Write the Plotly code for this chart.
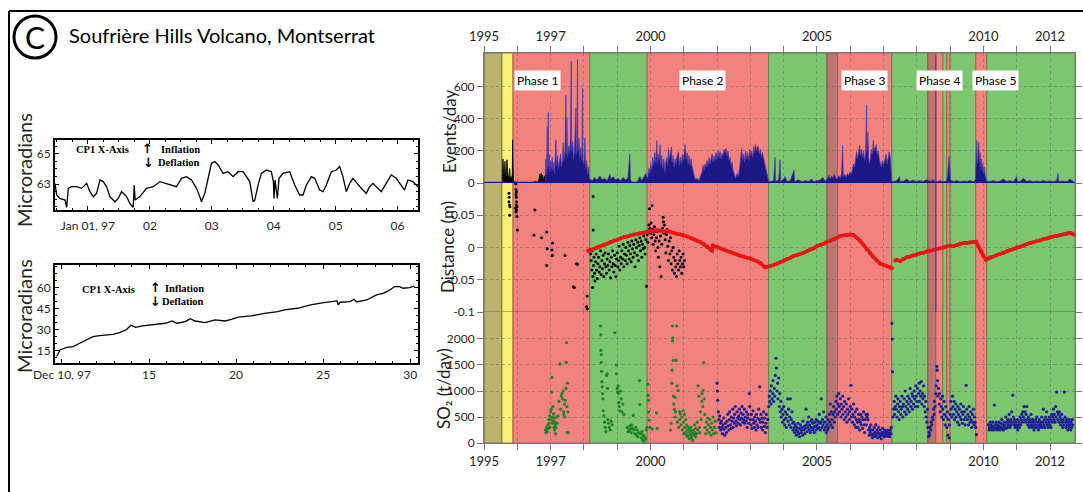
import plotly.graph_objects as go

W, H = 1083, 492
def px(x): return x / W
def py(y): return 1 - y / H

# ---------------- data: tilt records ----------------
TILT1_DAY = [0.468,0.495,0.548,0.629,0.656,0.683,0.737,0.817,0.898,0.979,1.032,1.086,1.140,1.194,1.247,1.301,1.355,1.435,1.489,1.543,1.624,1.677,1.731,1.747,1.763,1.839,1.946,2.054,2.161,2.269,2.376,2.430,2.511,2.591,2.672,2.753,2.806,2.833,2.887,2.941,2.995,3.048,3.102,3.183,3.263,3.344,3.425,3.505,3.613,3.667,3.694,3.747,3.801,3.882,3.962,3.995,4.005,4.021,4.059,4.086,4.150,4.258,4.339,4.419,4.473,4.527,4.608,4.661,4.742,4.796,4.850,4.930,5.011,5.065,5.118,5.172,5.226,5.280,5.360,5.414,5.495,5.548,5.602,5.683,5.737,5.817,5.898,5.979,6.059,6.113,6.167,6.247,6.328]
TILT1_VAL = [63.04,62.27,62.04,61.93,61.44,62.71,62.82,62.82,62.71,63.04,62.49,62.16,62.38,63.27,63.16,62.82,62.16,61.82,62.04,62.49,62.16,61.71,61.44,62.93,61.93,62.16,62.71,62.82,63.16,63.04,62.93,62.82,63.38,63.49,63.27,62.71,62.16,61.82,62.38,63.38,64.38,64.49,64.27,63.71,63.82,63.49,63.82,63.82,63.16,61.82,61.93,62.93,63.71,63.93,63.82,63.16,62.04,63.27,62.04,63.38,63.71,63.82,62.93,62.27,62.27,62.93,63.49,63.38,62.60,62.49,62.93,63.82,63.93,64.16,63.49,62.49,63.04,63.38,62.93,62.71,62.38,62.82,63.04,62.71,62.49,63.04,63.60,63.38,62.93,62.60,63.27,63.16,62.82]

TILT2_DAY = [9.70,9.89,10.27,10.64,11.02,11.40,11.78,12.16,12.54,12.92,13.30,13.68,13.96,14.24,14.62,15.19,15.57,15.95,16.32,16.61,17.08,17.37,17.65,18.22,18.79,19.36,19.73,20.11,20.87,21.63,22.39,22.77,23.52,24.28,25.04,25.42,25.80,25.87,25.98,26.55,26.78,26.93,27.50,28.07,28.45,28.83,29.11,29.40,29.59,29.96,30.25]
TILT2_VAL = [11.0,15.7,17.6,18.1,20.5,22.9,25.2,26.0,26.4,26.9,28.1,30.0,33.3,31.9,32.9,33.6,34.3,34.8,36.4,34.8,36.0,38.1,36.4,35.3,37.2,36.4,37.6,39.1,40.0,41.9,43.1,44.3,45.5,47.9,49.5,50.2,50.7,47.9,49.8,50.2,51.9,50.0,51.4,55.0,56.2,58.6,61.0,61.0,59.8,60.3,61.4]

TILT1_TICKS = [1, 2, 3, 4, 5, 6]
TILT1_LABELS = ["Jan 01, 97", "02", "03", "04", "05", "06"]
TILT2_TICKS = [10, 15, 20, 25, 30]
TILT2_LABELS = ["Dec 10, 97", "15", "20", "25", "30"]

# ---------------- data: phases ----------------
BAND_START = [1995.0, 1995.54, 1995.87, 1998.18, 1999.90, 2003.55, 2005.30, 2005.62, 2007.25, 2008.33, 2008.57, 2008.78, 2008.90, 2009.00, 2009.77, 2010.10]
BAND_END   = [1995.54, 1995.87, 1998.18, 1999.90, 2003.55, 2005.30, 2005.62, 2007.25, 2008.33, 2008.57, 2008.78, 2008.90, 2009.00, 2009.77, 2010.10, 2012.75]
BAND_KIND  = ["olive", "yellow", "red", "green", "red", "green", "brown", "red", "green", "brown", "red", "green", "red", "green", "red", "green"]
PHASE_NAMES = ["Phase 1", "Phase 2", "Phase 3", "Phase 4", "Phase 5"]
PHASE_LABEL_X = [1996.6, 2001.55, 2006.43, 2008.68, 2010.36]
MARKER_LINE_YEAR = 2008.57

YEAR_TICKS = list(range(1995, 2013))
YEAR_LABELED = [1995, 1997, 2000, 2005, 2010, 2012]

# ---------------- data: events/day ----------------
EV_BLACK = [(1995.55,20),(1995.57,150),(1995.59,60),(1995.61,40),(1995.63,135),(1995.65,30),(1995.67,50),(1995.69,145),(1995.71,70),(1995.73,30),(1995.75,40),(1995.77,90),(1995.79,25),(1995.81,40),(1995.83,20),(1995.85,60),(1995.86,270),(1995.87,40),(1995.88,15),(1995.90,8),(1995.95,5),(1996.0,3),(1996.1,2),(1996.2,1),(1996.3,3),(1996.4,2),(1996.5,5),(1996.55,10),(1996.6,3),(1996.65,20),(1996.68,55),(1996.7,15),(1996.72,60),(1996.74,25),(1996.76,50),(1996.78,10),(1996.8,30),(1996.82,45),(1996.84,20)]

EV_BLUE = [(1996.84,40),(1996.86,150),(1996.88,60),(1996.90,350),(1996.91,90),(1996.93,440),(1996.94,110),(1996.96,180),(1996.98,70),(1997.00,140),(1997.02,90),(1997.05,160),(1997.07,80),(1997.10,130),(1997.12,60),(1997.14,150),(1997.16,270),(1997.18,110),(1997.21,170),(1997.24,90),(1997.27,140),(1997.30,180),(1997.33,100),(1997.36,150),(1997.38,250),(1997.40,140),(1997.43,200),(1997.46,550),(1997.47,180),(1997.49,410),(1997.51,160),(1997.54,230),(1997.57,190),(1997.60,300),(1997.62,760),(1997.63,200),(1997.66,260),(1997.69,150),(1997.72,220),(1997.74,320),(1997.76,470),(1997.77,180),(1997.79,250),(1997.81,770),(1997.82,200),(1997.85,280),(1997.88,160),(1997.91,220),(1997.94,140),(1997.96,590),(1997.97,150),(1998.00,120),(1998.03,280),(1998.05,90),(1998.08,140),(1998.11,60),(1998.14,100),(1998.16,30),
(1998.18,25),(1998.25,15),(1998.32,35),(1998.40,20),(1998.48,45),(1998.55,20),(1998.62,30),(1998.70,15),(1998.78,55),(1998.82,25),(1998.88,40),(1998.95,20),(1999.02,30),(1999.10,15),(1999.18,35),(1999.25,20),(1999.32,30),(1999.38,180),(1999.40,20),(1999.45,5),(1999.50,0),(1999.58,0),(1999.62,20),(1999.68,40),(1999.74,15),(1999.80,35),(1999.86,60),(1999.90,30),
(1999.92,40),(1999.95,90),(1999.98,60),(2000.01,120),(2000.04,80),(2000.07,160),(2000.10,110),(2000.13,190),(2000.16,130),(2000.19,265),(2000.21,120),(2000.24,180),(2000.27,140),(2000.29,240),(2000.31,110),(2000.34,170),(2000.37,90),(2000.40,150),(2000.43,70),(2000.46,130),(2000.49,160),(2000.52,110),(2000.54,215),(2000.57,150),(2000.60,180),(2000.63,225),(2000.65,130),(2000.68,170),(2000.71,100),(2000.74,150),(2000.77,120),(2000.80,170),(2000.84,195),(2000.87,110),(2000.90,160),(2000.93,120),(2000.96,180),(2000.99,140),(2001.02,200),(2001.04,240),(2001.07,150),(2001.10,190),(2001.13,120),(2001.16,170),(2001.19,110),(2001.22,150),(2001.25,100),(2001.28,70),(2001.32,40),(2001.36,20),(2001.40,30),(2001.45,15),(2001.50,40),(2001.55,70),(2001.58,110),(2001.61,80),(2001.64,120),(2001.67,100),(2001.70,140),(2001.73,110),(2001.76,160),(2001.79,120),(2001.82,150),(2001.85,180),(2001.88,130),(2001.91,170),(2001.94,140),(2001.97,190),(2002.00,150),(2002.03,200),(2002.06,160),(2002.09,195),(2002.12,150),(2002.15,185),(2002.18,170),(2002.21,210),(2002.24,190),(2002.27,215),(2002.30,170),(2002.33,200),(2002.36,140),(2002.39,160),(2002.42,110),(2002.45,130),(2002.48,80),(2002.52,50),(2002.56,30),(2002.60,60),(2002.64,40),(2002.68,100),(2002.71,150),(2002.74,215),(2002.77,140),(2002.80,180),(2002.83,130),(2002.86,200),(2002.89,150),(2002.92,190),(2002.95,140),(2002.98,210),(2003.01,170),(2003.04,200),(2003.07,160),(2003.10,230),(2003.13,190),(2003.15,245),(2003.18,200),(2003.21,230),(2003.24,225),(2003.27,180),(2003.30,210),(2003.33,160),(2003.36,190),(2003.40,150),(2003.44,120),(2003.48,90),(2003.52,40),(2003.55,10),
(2003.60,10),(2003.70,15),(2003.74,160),(2003.76,10),(2003.85,20),(2003.89,145),(2003.91,10),(2004.00,25),(2004.04,40),(2004.10,10),(2004.20,15),(2004.31,80),(2004.33,10),(2004.45,20),(2004.55,8),(2004.65,15),(2004.75,10),(2004.84,25),(2004.90,8),(2005.00,15),(2005.10,20),(2005.18,35),(2005.25,10),
(2005.32,30),(2005.36,50),(2005.40,25),(2005.44,45),(2005.48,30),(2005.52,55),(2005.56,35),(2005.60,25),
(2005.62,30),(2005.66,45),(2005.70,30),(2005.74,60),(2005.77,235),(2005.79,40),(2005.83,55),(2005.87,35),(2005.91,60),(2005.95,45),(2005.99,70),(2006.03,55),(2006.07,90),(2006.10,120),(2006.13,100),(2006.16,160),(2006.19,195),(2006.22,150),(2006.25,200),(2006.28,235),(2006.31,170),(2006.34,210),(2006.37,160),(2006.40,200),(2006.43,140),(2006.46,180),(2006.49,485),(2006.50,200),(2006.53,320),(2006.55,150),(2006.58,120),(2006.61,170),(2006.64,210),(2006.67,180),(2006.69,265),(2006.72,200),(2006.75,230),(2006.78,240),(2006.81,180),(2006.84,200),(2006.87,150),(2006.90,130),(2006.93,100),(2006.96,140),(2006.99,110),(2007.02,130),(2007.05,160),(2007.08,180),(2007.11,120),(2007.14,150),(2007.17,195),(2007.20,160),(2007.23,80),(2007.25,10),
(2007.30,8),(2007.40,15),(2007.48,40),(2007.50,8),(2007.60,12),(2007.70,25),(2007.78,10),(2007.88,18),(2007.98,8),(2008.08,15),(2008.18,10),(2008.28,20),(2008.36,15),(2008.42,10),(2008.48,20),(2008.54,12),(2008.62,8),(2008.70,15),(2008.76,10),(2008.82,8),(2008.88,10),(2008.92,40),(2008.95,120),(2008.97,165),(2008.99,100),(2009.01,20),(2009.10,10),(2009.20,15),(2009.30,8),(2009.40,12),(2009.50,10),(2009.60,15),(2009.70,8),
(2009.76,20),(2009.78,150),(2009.80,265),(2009.82,120),(2009.84,200),(2009.86,255),(2009.88,130),(2009.90,190),(2009.92,100),(2009.94,150),(2009.96,80),(2009.98,120),(2010.00,60),(2010.02,100),(2010.05,50),(2010.08,30),(2010.10,10),
(2010.20,10),(2010.30,15),(2010.40,8),(2010.50,12),(2010.60,25),(2010.70,10),(2010.80,15),(2010.90,8),(2011.00,40),(2011.02,10),(2011.10,10),(2011.20,30),(2011.30,10),(2011.40,15),(2011.50,8),(2011.60,12),(2011.70,10),(2011.80,15),(2011.90,10),(2012.00,12),(2012.10,8),(2012.20,15),(2012.24,60),(2012.26,10),(2012.40,12),(2012.50,8),(2012.60,25),(2012.70,10)]

# ---------------- data: distance (m) ----------------
DIST_RED_A = [(1998.12,-0.005),(1998.2,-0.004),(1998.3,-0.002),(1998.4,0.0),(1998.5,0.002),(1998.6,0.004),(1998.7,0.006),(1998.8,0.009),(1998.9,0.011),(1999.0,0.012),(1999.1,0.014),(1999.2,0.016),(1999.3,0.017),(1999.4,0.019),(1999.5,0.020),(1999.6,0.021),(1999.7,0.022),(1999.8,0.023),(1999.9,0.025),(2000.0,0.026),(2000.1,0.025),(2000.2,0.027),(2000.3,0.026),(2000.4,0.025),(2000.5,0.026),(2000.6,0.024),(2000.7,0.023),(2000.8,0.021),(2000.9,0.020),(2001.0,0.019),(2001.1,0.017),(2001.2,0.015),(2001.3,0.013),(2001.4,0.011),(2001.5,0.008),(2001.6,0.005),(2001.7,0.001),(2001.8,-0.003),(2001.85,-0.005),(2001.88,0.003),(2002.0,0.001),(2002.1,-0.001),(2002.2,-0.003),(2002.3,-0.005),(2002.4,-0.007),(2002.5,-0.009),(2002.6,-0.011),(2002.7,-0.013),(2002.8,-0.014),(2002.9,-0.016),(2003.0,-0.017),(2003.1,-0.019),(2003.2,-0.021),(2003.3,-0.024),(2003.4,-0.029),(2003.45,-0.031),(2003.5,-0.030),(2003.6,-0.029),(2003.7,-0.027),(2003.8,-0.025),(2003.9,-0.023),(2004.0,-0.020),(2004.1,-0.018),(2004.2,-0.016),(2004.3,-0.013),(2004.4,-0.012),(2004.5,-0.010),(2004.6,-0.008),(2004.7,-0.006),(2004.8,-0.003),(2004.9,-0.001),(2005.0,0.002),(2005.1,0.004),(2005.2,0.006),(2005.3,0.009),(2005.4,0.011),(2005.5,0.013),(2005.6,0.015),(2005.7,0.018),(2005.8,0.019),(2005.9,0.019),(2006.0,0.020),(2006.1,0.019),(2006.2,0.015),(2006.3,0.010),(2006.4,0.004),(2006.5,-0.003),(2006.6,-0.009),(2006.7,-0.015),(2006.8,-0.020),(2006.9,-0.025),(2007.0,-0.027),(2007.1,-0.029),(2007.2,-0.031),(2007.25,-0.032)]
DIST_RED_B = [(2007.35,-0.020),(2007.40,-0.019),(2007.5,-0.021),(2007.6,-0.018),(2007.7,-0.015),(2007.8,-0.014),(2007.9,-0.012),(2008.0,-0.011),(2008.1,-0.009),(2008.2,-0.008),(2008.3,-0.006),(2008.4,-0.005),(2008.5,-0.004),(2008.6,-0.002),(2008.7,-0.001),(2008.8,0.000),(2008.9,0.002),(2009.0,0.003),(2009.1,0.002),(2009.2,0.004),(2009.3,0.006),(2009.4,0.007),(2009.5,0.007),(2009.6,0.008),(2009.7,0.009),(2009.78,0.009),(2009.85,0.002),(2009.92,-0.006),(2010.0,-0.013),(2010.07,-0.019),(2010.15,-0.017),(2010.2,-0.015),(2010.3,-0.014),(2010.4,-0.012),(2010.5,-0.010),(2010.6,-0.008),(2010.7,-0.006),(2010.8,-0.004),(2010.9,-0.002),(2011.0,0.000),(2011.1,0.001),(2011.2,0.003),(2011.3,0.005),(2011.4,0.007),(2011.5,0.008),(2011.6,0.010),(2011.7,0.011),(2011.8,0.013),(2011.9,0.014),(2012.0,0.016),(2012.1,0.017),(2012.2,0.018),(2012.3,0.019),(2012.4,0.020),(2012.5,0.021),(2012.6,0.023),(2012.65,0.022),(2012.7,0.020)]

DIST_BLACK = [(1995.75,0.084),(1995.76,0.078),(1995.75,0.071),(1995.77,0.066),(1995.78,0.063),(1995.77,0.050),(1995.95,0.099),(1995.96,0.090),(1995.96,0.082),(1995.97,0.078),(1995.98,0.071),(1995.97,0.066),(1995.99,0.063),(1995.98,0.058),(1995.96,0.055),(1995.99,0.048),(1996.00,0.027),(1995.94,0.061),(1995.97,0.086),
(1996.53,0.058),(1996.50,0.019),(1996.73,0.015),(1996.88,0.024),(1996.90,-0.002),(1997.04,-0.004),(1997.06,0.007),(1997.05,-0.0125),(1996.88,-0.028),(1997.43,-0.0125),(1997.78,-0.025),(1997.81,-0.026),(1997.68,-0.061),(1997.71,-0.062),(1998.10,-0.075),(1998.08,-0.092),(1998.10,-0.095),(1998.28,0.079),(1998.28,0.027),(1998.26,-0.062),
(1998.20,-0.010),(1998.22,-0.020),(1998.24,-0.035),(1998.25,-0.005),(1998.27,-0.045),(1998.29,-0.028),(1998.30,-0.015),(1998.32,-0.040),(1998.33,-0.052),(1998.35,-0.022),(1998.37,-0.010),(1998.38,-0.035),(1998.40,-0.048),(1998.42,-0.025),(1998.44,-0.015),(1998.46,-0.038),(1998.48,-0.030),(1998.50,-0.005),(1998.52,-0.042),(1998.54,-0.020),(1998.56,-0.033),(1998.58,-0.012),(1998.60,-0.045),(1998.62,-0.025),(1998.64,-0.008),(1998.66,-0.030),(1998.68,-0.040),(1998.70,-0.018),(1998.72,-0.028),(1998.74,-0.010),(1998.76,-0.035),(1998.78,-0.022),(1998.80,-0.047),(1998.82,-0.015),(1998.84,-0.030),(1998.86,-0.005),(1998.88,-0.025),(1998.90,-0.038),(1998.92,-0.012),(1998.94,-0.028),(1998.96,-0.045),(1998.98,-0.018),(1999.00,-0.008),(1999.02,-0.030),(1999.04,-0.020),(1999.06,0.002),(1999.08,-0.035),(1999.10,-0.015),(1999.12,-0.025),(1999.14,-0.005),(1999.16,-0.018),(1999.18,0.005),(1999.20,-0.030),(1999.22,-0.010),(1999.24,-0.020),(1999.26,0.000),(1999.28,-0.012),(1999.30,-0.025),(1999.32,0.008),(1999.34,-0.005),(1999.36,-0.018),(1999.38,0.003),(1999.40,-0.010),(1999.42,-0.022),(1999.44,0.010),(1999.46,-0.002),(1999.48,-0.015),(1999.50,0.005),(1999.52,-0.008),(1999.54,-0.030),(1999.56,0.012),(1999.58,0.000),(1999.60,-0.012),(1999.62,0.008),(1999.64,-0.020),(1999.66,0.003),(1999.68,0.015),(1999.70,-0.005),(1999.72,0.010),(1999.74,-0.015),(1999.76,0.005),(1999.78,-0.002),(1999.80,0.018),(1999.82,0.000),(1999.84,-0.010),(1999.86,0.012),(1999.88,-0.060),(1999.90,0.020),(1999.92,0.008),
(1999.97,0.060),(2000.05,0.065),(1999.95,0.035),(1999.98,0.030),(2000.00,0.022),(2000.02,0.038),(2000.04,0.015),(2000.06,0.028),(2000.08,0.005),(2000.10,0.020),(2000.12,0.032),(2000.14,0.010),(2000.16,-0.005),(2000.18,0.015),(2000.20,0.025),(2000.22,0.000),(2000.24,-0.015),(2000.26,0.010),(2000.28,-0.030),(2000.30,0.018),(2000.32,-0.045),(2000.34,0.005),(2000.36,0.030),(2000.38,0.047),(2000.39,0.040),(2000.40,0.022),(2000.42,0.035),(2000.44,0.012),(2000.46,-0.008),(2000.48,0.020),(2000.50,0.028),(2000.52,0.002),(2000.54,-0.020),(2000.56,0.010),(2000.58,-0.010),(2000.60,0.015),(2000.62,-0.025),(2000.64,-0.005),(2000.66,-0.035),(2000.68,0.000),(2000.70,-0.015),(2000.72,-0.040),(2000.74,-0.020),(2000.76,-0.030),(2000.78,-0.045),(2000.80,-0.010),(2000.82,-0.025),(2000.84,-0.035),(2000.86,-0.005),(2000.88,-0.020),(2000.90,-0.030),(2000.92,-0.015),(2000.94,-0.040),(2000.96,-0.025),(2000.98,-0.010),(2001.00,-0.030),(2001.02,-0.020)]

# ---------------- data: SO2 (t/day) ----------------
SO2_GREEN = [(1996.85,250),(1996.86,200),(1996.88,300),(1996.90,220),(1996.92,350),(1996.93,280),(1996.95,450),(1996.96,380),(1996.97,520),(1996.98,300),(1997.00,600),(1997.01,450),(1997.02,650),(1997.03,980),(1997.04,1260),(1997.05,500),(1997.06,380),(1997.07,700),(1997.08,420),(1997.09,560),(1997.10,300),(1997.11,480),(1997.12,250),(1997.13,400),(1997.14,350),(1997.15,180),(1997.16,300),(1997.18,500),(1997.20,380),(1997.22,520),(1997.25,800),(1997.28,1520),(1997.30,650),(1997.32,900),(1997.34,950),(1997.36,850),(1997.38,1000),(1997.39,600),(1997.40,550),(1997.42,750),(1997.43,500),(1997.44,820),(1997.46,1050),(1997.47,1550),(1997.48,1930),(1997.49,700),(1997.50,200),(1997.51,1150),(1997.52,600),(1997.53,200),
(1998.50,2250),(1998.51,2080),(1998.51,1780),(1998.52,1700),(1998.52,1550),(1998.53,1380),(1998.54,1180),(1998.55,1080),(1998.56,950),(1998.57,850),(1998.58,620),(1998.60,520),(1998.62,400),(1998.64,300),(1998.66,220),(1998.68,1300),(1998.70,1330),(1998.71,1050),(1998.72,450),(1998.74,380),(1998.76,300),(1998.79,250),(1998.82,420),(1998.85,350),(1998.93,2120),(1998.97,1500),(1998.98,1330),(1999.00,1050),(1999.01,980),(1999.03,1100),(1999.04,950),(1999.05,780),(1999.06,700),(1999.08,620),(1999.10,1000),(1999.12,850),(1999.14,600),(1999.17,750),(1999.20,550),(1999.30,300),(1999.33,220),(1999.36,250),(1999.38,330),(1999.40,270),(1999.42,200),(1999.44,350),(1999.46,280),(1999.48,530),(1999.50,250),(1999.53,180),(1999.56,300),(1999.58,150),(1999.60,250),(1999.62,120),(1999.64,200),(1999.67,1200),(1999.68,740),(1999.70,180),(1999.72,100),(1999.74,220),(1999.76,60),(1999.78,150),(1999.80,30),(1999.82,120),(1999.85,80),(1999.87,250),(1999.89,300),
(1999.92,1130),(1999.93,920),(1999.94,820),(1999.95,600),(1999.96,440),(1999.98,300),(2000.05,270),(2000.18,580),(2000.20,280),(2000.60,250),(2000.62,380),(2000.64,1150),(2000.65,1400),(2000.66,2250),(2000.66,1960),(2000.67,2020),(2000.68,1590),(2000.69,900),(2000.70,750),(2000.72,650),(2000.73,500),(2000.74,880),(2000.75,600),(2000.77,1590),(2000.79,2250),(2000.80,1100),(2000.81,400),(2000.83,1010),(2000.85,300),(2000.87,600),(2000.88,450),(2000.90,560),(2000.92,350),(2000.94,500),(2000.96,250),(2000.98,620),(2000.99,400),(2001.00,180),(2001.02,550),(2001.03,300),(2001.05,200),(2001.06,450),(2001.08,150),(2001.09,350),(2001.11,250),(2001.12,120),(2001.14,300),(2001.15,200),(2001.17,80),(2001.18,250),(2001.20,150),(2001.21,300),(2001.23,100),(2001.24,220),(2001.26,180),(2001.27,50),(2001.29,250),(2001.30,150),(2001.32,350),(2001.33,200),(2001.35,120),(2001.36,280),(2001.38,180),(2001.40,400),(2001.42,250),(2001.43,1100),(2001.45,900),(2001.47,300),(2001.48,200),(2001.50,600),(2001.52,450),(2001.54,800),(2001.55,950),(2001.57,700),(2001.58,1010),(2001.60,1545),(2001.61,850),(2001.63,550),(2001.64,300),(2001.66,180),(2001.68,400),(2001.70,250),(2001.72,480),(2001.74,350),(2001.76,200),(2001.78,450),(2001.80,300),(2001.82,150),(2001.84,380),(2001.86,250),(2001.88,500),(2001.90,180),(2001.92,300),(2001.94,420),(2001.96,200)]

SO2_BLUE = [(2002.00,1150),(2002.01,1000),(2002.02,820),(2002.04,600),(2002.05,450),(2002.07,300),(2002.08,520),(2002.10,380),(2002.11,250),(2002.13,420),(2002.15,300),(2002.16,180),(2002.18,350),(2002.20,480),(2002.21,260),(2002.23,150),(2002.25,380),(2002.26,300),(2002.28,200),(2002.30,420),(2002.32,550),(2002.33,330),(2002.35,250),(2002.37,450),(2002.38,600),(2002.40,350),(2002.42,280),(2002.43,500),(2002.45,420),(2002.47,650),(2002.48,300),(2002.50,480),(2002.52,380),(2002.53,550),(2002.55,700),(2002.57,420),(2002.58,330),(2002.60,600),(2002.62,480),(2002.63,380),(2002.65,520),(2002.67,650),(2002.68,450),(2002.70,350),(2002.72,580),(2002.73,480),(2002.75,700),(2002.77,400),(2002.78,550),(2002.80,450),(2002.82,650),(2002.83,380),(2002.85,500),(2002.87,420),(2002.88,600),(2002.90,300),(2002.92,480),(2002.93,550),(2002.95,380),(2002.97,950),(2002.98,700),
(2003.00,450),(2003.02,350),(2003.03,550),(2003.05,280),(2003.07,450),(2003.08,620),(2003.10,380),(2003.12,300),(2003.13,500),(2003.15,420),(2003.17,250),(2003.18,550),(2003.20,350),(2003.22,480),(2003.23,300),(2003.25,650),(2003.27,450),(2003.28,1080),(2003.30,400),(2003.32,550),(2003.33,300),(2003.35,480),(2003.37,250),(2003.38,400),(2003.40,600),(2003.42,320),(2003.43,480),(2003.45,200),(2003.47,380),(2003.48,550),(2003.50,300),(2003.52,450),(2003.55,700),(2003.57,900),(2003.58,800),(2003.60,1000),(2003.62,750),(2003.63,1100),(2003.65,850),(2003.67,950),(2003.68,1200),(2003.70,800),(2003.72,1050),(2003.73,900),(2003.75,1300),(2003.77,1630),(2003.78,1440),(2003.80,1000),(2003.82,1150),(2003.83,850),(2003.85,1250),(2003.87,700),(2003.88,950),(2003.90,600),(2003.92,800),(2003.93,500),(2003.95,650),(2003.97,400),(2003.98,550),
(2004.00,700),(2004.02,450),(2004.03,350),(2004.05,600),(2004.07,480),(2004.08,300),(2004.10,550),(2004.12,850),(2004.13,420),(2004.15,650),(2004.17,350),(2004.18,500),(2004.20,850),(2004.22,300),(2004.23,450),(2004.25,600),(2004.27,380),(2004.28,250),(2004.30,400),(2004.32,300),(2004.33,200),(2004.35,350),(2004.37,250),(2004.38,150),(2004.40,300),(2004.42,220),(2004.43,380),(2004.45,180),(2004.47,280),(2004.48,120),(2004.50,350),(2004.52,250),(2004.53,200),(2004.55,300),(2004.57,150),(2004.58,420),(2004.60,250),(2004.62,320),(2004.63,180),(2004.65,280),(2004.67,650),(2004.68,350),(2004.70,220),(2004.72,400),(2004.73,300),(2004.75,500),(2004.77,250),(2004.78,350),(2004.80,200),(2004.82,420),(2004.83,300),(2004.85,450),(2004.87,250),(2004.88,380),(2004.90,300),(2004.92,200),(2004.93,400),(2004.95,320),(2004.97,250),(2004.98,450),
(2005.00,350),(2005.02,280),(2005.03,420),(2005.05,300),(2005.07,550),(2005.08,380),(2005.10,250),(2005.12,400),(2005.13,850),(2005.15,300),(2005.17,450),(2005.18,350),(2005.20,600),(2005.22,250),(2005.23,400),(2005.25,300),(2005.27,500),(2005.28,200),(2005.30,350),(2005.32,250),(2005.33,450),(2005.35,300),(2005.37,550),(2005.38,400),(2005.40,750),(2005.42,350),(2005.43,600),(2005.45,450),(2005.47,300),(2005.48,550),(2005.50,700),(2005.52,400),(2005.53,600),(2005.55,500),(2005.57,800),(2005.58,650),(2005.60,900),(2005.62,550),(2005.63,750),(2005.65,950),(2005.67,700),(2005.68,600),(2005.70,850),(2005.72,500),(2005.73,750),(2005.75,650),(2005.77,900),(2005.78,550),(2005.80,700),(2005.82,450),(2005.83,800),(2005.85,600),(2005.87,500),(2005.88,750),(2005.90,400),(2005.92,650),(2005.93,550),(2005.95,850),(2005.97,450),(2005.98,600),
(2006.00,700),(2006.02,1110),(2006.03,500),(2006.05,650),(2006.07,400),(2006.08,550),(2006.10,750),(2006.12,350),(2006.13,500),(2006.15,600),(2006.17,300),(2006.18,450),(2006.20,650),(2006.22,400),(2006.23,300),(2006.25,550),(2006.27,450),(2006.28,250),(2006.30,400),(2006.32,550),(2006.33,350),(2006.35,500),(2006.37,280),(2006.38,450),(2006.40,600),(2006.42,350),(2006.43,200),(2006.45,450),(2006.47,550),(2006.48,350),(2006.50,500),(2006.52,550),(2006.53,450),(2006.55,250),(2006.57,150),(2006.58,300),(2006.60,200),(2006.62,350),(2006.63,250),(2006.65,150),(2006.67,100),(2006.68,250),(2006.70,180),(2006.72,300),(2006.73,120),(2006.75,200),(2006.77,350),(2006.78,150),(2006.80,250),(2006.82,100),(2006.83,200),(2006.85,300),(2006.87,180),(2006.88,120),(2006.90,250),(2006.92,150),(2006.93,80),(2006.95,200),(2006.97,280),(2006.98,150),
(2007.00,200),(2007.02,120),(2007.03,250),(2007.05,180),(2007.07,150),(2007.08,220),(2007.10,130),(2007.12,250),(2007.13,180),(2007.15,150),(2007.17,200),(2007.18,120),(2007.20,250),(2007.22,180),(2007.23,300),(2007.25,2300),(2007.26,2000),(2007.27,1370),(2007.28,500),(2007.30,650),(2007.32,800),(2007.33,550),(2007.35,700),(2007.37,900),(2007.38,650),(2007.40,500),(2007.42,750),(2007.43,850),(2007.45,600),(2007.47,450),(2007.48,700),(2007.50,800),(2007.52,550),(2007.53,650),(2007.55,900),(2007.57,700),(2007.58,500),(2007.60,750),(2007.62,850),(2007.63,600),(2007.65,1000),(2007.67,700),(2007.68,550),(2007.70,800),(2007.72,650),(2007.73,900),(2007.75,750),(2007.77,600),(2007.78,850),(2007.80,1050),(2007.82,700),(2007.83,800),(2007.85,950),(2007.87,650),(2007.88,900),(2007.90,750),(2007.92,1000),(2007.93,850),(2007.95,700),(2007.97,1100),(2007.98,900),
(2008.00,800),(2008.02,1050),(2008.03,700),(2008.05,950),(2008.07,1150),(2008.08,800),(2008.10,1000),(2008.12,900),(2008.13,1180),(2008.15,750),(2008.17,950),(2008.18,850),(2008.20,1100),(2008.22,700),(2008.23,900),(2008.25,600),(2008.27,800),(2008.28,500),(2008.30,400),(2008.32,650),(2008.33,300),(2008.35,120),(2008.37,200),(2008.38,150),(2008.40,300),(2008.42,250),(2008.43,400),(2008.45,350),(2008.47,500),(2008.48,450),(2008.50,650),(2008.52,550),(2008.53,800),(2008.55,700),(2008.57,950),(2008.58,1100),(2008.60,1470),(2008.61,1400),(2008.62,1200),(2008.63,900),(2008.65,1050),(2008.67,750),(2008.68,950),(2008.70,600),(2008.72,850),(2008.73,700),(2008.75,500),(2008.77,900),(2008.78,650),(2008.80,450),(2008.82,800),(2008.83,550),(2008.85,350),(2008.87,700),(2008.88,500),(2008.90,300),(2008.92,600),(2008.93,150),(2008.95,450),(2008.97,100),(2008.98,350),
(2009.00,550),(2009.02,800),(2009.03,650),(2009.05,500),(2009.07,900),(2009.08,700),(2009.10,550),(2009.12,800),(2009.13,450),(2009.15,650),(2009.17,750),(2009.18,500),(2009.20,600),(2009.22,400),(2009.23,700),(2009.25,550),(2009.27,350),(2009.28,650),(2009.30,500),(2009.32,750),(2009.33,450),(2009.35,600),(2009.37,380),(2009.38,550),(2009.40,700),(2009.42,450),(2009.43,600),(2009.45,350),(2009.47,500),(2009.48,1110),(2009.50,650),(2009.52,450),(2009.53,550),(2009.55,350),(2009.57,700),(2009.58,500),(2009.60,400),(2009.62,600),(2009.63,450),(2009.65,300),(2009.67,550),(2009.68,400),(2009.70,650),(2009.72,350),(2009.73,500),(2009.75,400),(2009.77,300),(2009.79,160),
(2010.15,350),(2010.17,250),(2010.18,300),(2010.20,400),(2010.22,280),(2010.23,350),(2010.25,250),(2010.27,320),(2010.28,400),(2010.30,300),(2010.32,250),(2010.33,730),(2010.35,350),(2010.37,280),(2010.38,400),(2010.40,300),(2010.42,250),(2010.43,350),(2010.45,280),(2010.47,400),(2010.48,320),(2010.50,250),(2010.52,380),(2010.53,300),(2010.55,450),(2010.57,280),(2010.58,350),(2010.60,250),(2010.62,400),(2010.63,300),(2010.65,350),(2010.67,500),(2010.68,280),(2010.70,400),(2010.72,300),(2010.73,450),(2010.75,350),(2010.77,550),(2010.78,400),(2010.80,300),(2010.82,450),(2010.83,350),(2010.85,600),(2010.87,400),(2010.88,920),(2010.90,500),(2010.92,350),(2010.93,450),(2010.95,300),(2010.97,400),(2010.98,350),
(2011.00,300),(2011.02,450),(2011.03,250),(2011.05,350),(2011.07,400),(2011.08,300),(2011.10,500),(2011.12,350),(2011.13,450),(2011.15,550),(2011.17,400),(2011.18,600),(2011.20,500),(2011.22,700),(2011.23,450),(2011.25,600),(2011.27,400),(2011.28,550),(2011.30,700),(2011.32,450),(2011.33,350),(2011.35,500),(2011.37,400),(2011.38,300),(2011.40,450),(2011.42,350),(2011.43,550),(2011.45,400),(2011.47,300),(2011.48,450),(2011.50,350),(2011.52,250),(2011.53,400),(2011.55,300),(2011.57,450),(2011.58,350),(2011.60,500),(2011.62,300),(2011.63,400),(2011.65,250),(2011.67,350),(2011.68,450),(2011.70,300),(2011.72,400),(2011.73,350),(2011.75,500),(2011.77,300),(2011.78,400),(2011.80,650),(2011.82,350),(2011.83,450),(2011.85,300),(2011.87,500),(2011.88,400),(2011.90,600),(2011.92,350),(2011.93,450),(2011.95,300),(2011.97,400),(2011.98,500),
(2012.00,350),(2012.02,450),(2012.03,300),(2012.05,550),(2012.07,400),(2012.08,500),(2012.10,650),(2012.12,450),(2012.13,550),(2012.15,400),(2012.17,700),(2012.18,500),(2012.20,980),(2012.22,600),(2012.23,450),(2012.25,550),(2012.27,400),(2012.28,600),(2012.30,500),(2012.32,350),(2012.33,450),(2012.35,550),(2012.37,400),(2012.38,300),(2012.40,450),(2012.42,350),(2012.43,980),(2012.45,500),(2012.47,400),(2012.48,300),(2012.50,450),(2012.52,350),(2012.53,250),(2012.55,400),(2012.57,300),(2012.58,450),(2012.60,350),(2012.62,250),(2012.63,400),(2012.65,300),(2012.67,450),(2012.68,350)]

def xs(pairs): return [p[0] for p in pairs]
def ys(pairs): return [p[1] for p in pairs]

# ---------------- styles ----------------
FONT = "Lato, 'Open Sans', sans-serif"
BAND_FILL = {"olive": "rgb(187,180,112)", "yellow": "rgb(247,242,112)", "red": "rgb(242,130,126)",
             "green": "rgb(124,198,112)", "brown": "rgb(186,118,110)"}
BAND_EDGE = {"olive": "rgb(90,85,50)", "yellow": "rgb(120,115,40)", "red": "rgb(170,80,75)",
             "green": "rgb(70,135,60)", "brown": "rgb(130,70,65)"}
NAVY = "rgb(28,24,135)"
GRID = "rgba(90,90,90,0.45)"
AXC = "rgb(120,120,120)"

fig = go.Figure()

fig.add_trace(go.Scatter(x=TILT1_DAY, y=TILT1_VAL, mode="lines", line=dict(color="black", width=1.3),
                         xaxis="x", yaxis="y", hoverinfo="skip"))
fig.add_trace(go.Scatter(x=TILT2_DAY, y=TILT2_VAL, mode="lines", line=dict(color="black", width=1.3),
                         xaxis="x2", yaxis="y2", hoverinfo="skip"))

fig.add_trace(go.Scatter(x=xs(EV_BLACK), y=ys(EV_BLACK), mode="lines", fill="tozeroy",
                         line=dict(color="black", width=0.8), fillcolor="black",
                         xaxis="x3", yaxis="y3", hoverinfo="skip"))
fig.add_trace(go.Scatter(x=xs(EV_BLUE), y=ys(EV_BLUE), mode="lines", fill="tozeroy",
                         line=dict(color="rgb(80,60,170)", width=0.8), fillcolor=NAVY,
                         xaxis="x3", yaxis="y3", hoverinfo="skip"))
fig.add_trace(go.Scatter(x=[1995, 2012.75], y=[0, 0], mode="lines", line=dict(color=NAVY, width=2.5),
                         xaxis="x3", yaxis="y3", hoverinfo="skip"))

fig.add_trace(go.Scatter(x=xs(DIST_BLACK), y=ys(DIST_BLACK), mode="markers",
                         marker=dict(color="black", size=3),
                         xaxis="x3", yaxis="y4", hoverinfo="skip"))
for seg in (DIST_RED_A, DIST_RED_B):
    fig.add_trace(go.Scatter(x=xs(seg), y=ys(seg), mode="lines+markers",
                             line=dict(color="rgb(235,20,20)", width=3.5),
                             marker=dict(color="rgb(235,20,20)", size=4),
                             xaxis="x3", yaxis="y4", hoverinfo="skip"))

fig.add_trace(go.Scatter(x=xs(SO2_GREEN), y=ys(SO2_GREEN), mode="markers",
                         marker=dict(color="rgb(30,130,40)", size=3.2),
                         xaxis="x3", yaxis="y5", hoverinfo="skip"))
fig.add_trace(go.Scatter(x=xs(SO2_BLUE), y=ys(SO2_BLUE), mode="markers",
                         marker=dict(color="rgb(30,30,150)", size=3.2),
                         xaxis="x3", yaxis="y5", hoverinfo="skip"))
fig.add_trace(go.Scatter(x=[2000], y=[0], mode="markers", marker=dict(opacity=0),
                         xaxis="x4", yaxis="y3", hoverinfo="skip"))

shapes = []
for s, e, k in zip(BAND_START, BAND_END, BAND_KIND):
    shapes.append(dict(type="rect", xref="x3", yref="paper", x0=s, x1=e, y0=py(443), y1=py(53),
                       fillcolor=BAND_FILL[k], line=dict(color=BAND_EDGE[k], width=0.8), layer="below"))
shapes.append(dict(type="line", xref="x3", yref="y4", x0=1995, x1=2012.75, y0=-0.1, y1=-0.1,
                   line=dict(color="rgb(100,100,100)", width=1)))
shapes.append(dict(type="line", xref="x3", yref="paper", x0=MARKER_LINE_YEAR, x1=MARKER_LINE_YEAR,
                   y0=py(312), y1=py(55), line=dict(color="rgb(95,55,150)", width=1.2)))
shapes.append(dict(type="line", xref="paper", yref="paper", x0=px(9), x1=1.0, y0=py(11), y1=py(11),
                   line=dict(color="black", width=2)))
shapes.append(dict(type="line", xref="paper", yref="paper", x0=px(9), x1=px(9), y0=py(11), y1=0,
                   line=dict(color="black", width=2)))
shapes.append(dict(type="circle", xref="paper", yref="paper", x0=px(14), x1=px(56), y0=py(58), y1=py(16),
                   line=dict(color="black", width=3)))

annotations = []
def ann(x, y, text, size, **kw):
    d = dict(x=px(x), y=py(y), xref="paper", yref="paper", text=text, showarrow=False,
             xanchor=kw.pop("xanchor", "center"), yanchor="middle",
             font=dict(family=kw.pop("family", FONT), size=size, color=kw.pop("color", "black")))
    d.update(kw)
    annotations.append(d)

ann(35, 37, "C", 30)
ann(67, 35, "Soufrière Hills Volcano, Montserrat", 20, xanchor="left")
ann(24, 170, "Microradians", 20, textangle=-90, color="rgb(40,40,40)")
ann(24, 316, "Microradians", 20, textangle=-90, color="rgb(40,40,40)")
ann(449, 132, "Events/day", 17, textangle=-90, color="rgb(30,30,30)")
ann(447, 247, "Distance (m)", 17, textangle=-90, color="rgb(30,30,30)")
ann(443, 389, "SO₂ (t/day)", 17, textangle=-90, color="rgb(30,30,30)")

SERIF = "'Liberation Serif', 'DejaVu Serif', serif"
ann(102, 149, "<b>CP1 X-Axis</b>", 10.5, family=SERIF)
ann(147, 148, "<b>↑</b>", 13, family="DejaVu Sans")
ann(180, 149, "<b>Inflation</b>", 10.5, family=SERIF)
ann(148, 162, "<b>↓</b>", 13, family="DejaVu Sans")
ann(179, 162, "<b>Deflation</b>", 10.5, family=SERIF)
ann(108, 289, "<b>CP1 X-Axis</b>", 10.5, family=SERIF)
ann(155, 287, "<b>↑</b>", 13, family="DejaVu Sans")
ann(184, 288, "<b>Inflation</b>", 10.5, family=SERIF)
ann(155, 301, "<b>↓</b>", 13, family="DejaVu Sans")
ann(183, 301, "<b>Deflation</b>", 10.5, family=SERIF)

for name, xv in zip(PHASE_NAMES, PHASE_LABEL_X):
    annotations.append(dict(x=xv, y=py(80), xref="x3", yref="paper", text=name, showarrow=False,
                            xanchor="center", yanchor="middle", bgcolor="white", borderpad=2,
                            font=dict(family=FONT, size=12, color="black")))

tickfont = dict(family=FONT, size=12, color="rgb(40,40,40)")
small_axis = dict(showline=True, linecolor="black", linewidth=2, mirror="ticks", ticks="inside",
                  ticklen=4, tickcolor="black", showgrid=False, zeroline=False, tickfont=tickfont,
                  automargin=False)

year_text = [str(y) if y in YEAR_LABELED else "" for y in YEAR_TICKS]
right_x = dict(range=[1995, 2012.75], tickvals=YEAR_TICKS, ticktext=year_text, ticks="outside",
               ticklen=6, tickcolor=AXC, showline=True, linecolor=AXC, linewidth=1, zeroline=False,
               tickfont=dict(family=FONT, size=13, color="rgb(30,30,30)"), automargin=False)
right_y = dict(ticks="outside", ticklen=6, tickcolor=AXC, showline=True, linecolor=AXC, linewidth=1,
               mirror="ticks", zeroline=False, showgrid=True, gridcolor=GRID, griddash="dot", gridwidth=1,
               tickfont=tickfont, anchor="x3", automargin=False)

fig.update_layout(
    width=W, height=H, margin=dict(l=0, r=0, t=0, b=0, autoexpand=False),
    paper_bgcolor="white", plot_bgcolor="rgba(0,0,0,0)", showlegend=False,
    xaxis=dict(domain=[px(55), px(418)], range=[0.468, 6.33], anchor="y", tickvals=TILT1_TICKS,
               ticktext=TILT1_LABELS, ticklabelstandoff=4,
               minor=dict(ticks="inside", ticklen=2, dtick=0.25, tickcolor="black"), **small_axis),
    yaxis=dict(domain=[py(210), py(140)], range=[61.27, 65.93], anchor="x", tickvals=[63, 65],
               minor=dict(ticks="inside", ticklen=2, dtick=0.5, tickcolor="black"), **small_axis),
    xaxis2=dict(domain=[px(55), px(418)], range=[9.6, 30.45], anchor="y2", tickvals=TILT2_TICKS,
                ticktext=TILT2_LABELS, minor=dict(ticks="inside", ticklen=2, dtick=1, tickcolor="black"),
                **small_axis),
    yaxis2=dict(domain=[py(363), py(265)], range=[6.4, 76.4], anchor="x2", tickvals=[15, 30, 45, 60],
                minor=dict(ticks="inside", ticklen=2, dtick=5, tickcolor="black"), **small_axis),
    xaxis3=dict(domain=[px(484), px(1075)], anchor="y5", showgrid=True, gridcolor=GRID, griddash="dot",
                gridwidth=1, **right_x),
    xaxis4=dict(overlaying="x3", side="top", anchor="y3", showgrid=False, matches="x3", **right_x),
    yaxis3=dict(domain=[py(183), py(53)], range=[0, 812], tickvals=[0, 200, 400, 600], **right_y),
    yaxis4=dict(domain=[py(312), py(183)], range=[-0.1, 0.1], tickvals=[-0.1, -0.05, 0, 0.05],
                ticktext=["-0.1", "-0.05", "0", "0.05"], **right_y),
    yaxis5=dict(domain=[py(443), py(312)], range=[0, 2519], tickvals=[0, 500, 1000, 1500, 2000], **right_y),
    shapes=shapes, annotations=annotations,
)

fig.write_html("out.html")
